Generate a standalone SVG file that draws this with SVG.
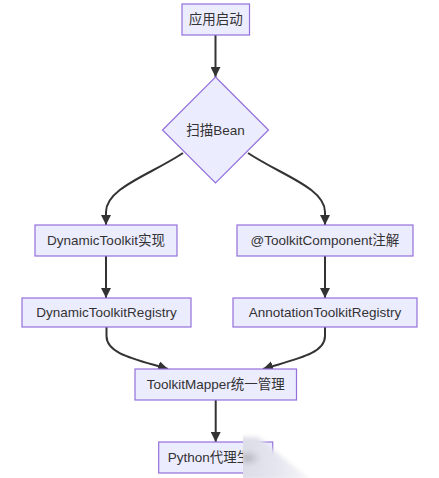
<svg xmlns="http://www.w3.org/2000/svg" width="439" height="478" viewBox="0 0 439 478">
  <style>
    .node rect, .node polygon { fill: #ECECFF; stroke: #9370DB; stroke-width: 1.2; }
    .node text { font-family: "Liberation Sans", "Noto Sans CJK SC", sans-serif; font-size: 13.5px; fill: #333333; text-anchor: middle; dominant-baseline: central; }
    .edges path { fill: none; stroke: #333333; stroke-width: 2; marker-end: url(#arrow); }
  </style>
  <defs>
    <marker id="arrow" markerUnits="userSpaceOnUse" markerWidth="10" markerHeight="10" viewBox="0 0 10 10" refX="10" refY="5" orient="auto">
      <path d="M0,0 L10,5 L0,10 z" fill="#333333"/>
    </marker>
    <linearGradient id="wm" x1="0" y1="0" x2="1" y2="0">
      <stop offset="0" stop-color="#dcdce6"/>
      <stop offset="0.5" stop-color="#e4e4ee"/>
      <stop offset="1" stop-color="#f4f4f8"/>
    </linearGradient>
    <radialGradient id="wmdark" cx="0.5" cy="0.5" r="0.5">
      <stop offset="0" stop-color="#a8a8b2" stop-opacity="0.9"/>
      <stop offset="1" stop-color="#c8c8d2" stop-opacity="0"/>
    </radialGradient>
    <filter id="blur" x="-20%" y="-20%" width="140%" height="140%">
      <feGaussianBlur stdDeviation="2"/>
    </filter>
    <clipPath id="wmclip">
      <rect x="243" y="430" width="100" height="48"/>
    </clipPath>
  </defs>
  <rect width="439" height="478" fill="#ffffff"/>

  <g class="edges">
    <path d="M215.5,35 L215.5,77"/>
    <path d="M183,153 C150,175 106,188 106,212 L106,225"/>
    <path d="M248,153 C281,175 325,188 325,212 L325,225"/>
    <path d="M106,256 L106,298"/>
    <path d="M325,256 L325,298"/>
    <path d="M106.5,327 L106.5,336 C106.5,354 135,359 168,369"/>
    <path d="M325,327 L325,336 C325,354 296,359 263,369"/>
    <path d="M215.7,400 L215.7,442"/>
  </g>

  <g id="n-start" class="node">
    <rect x="182" y="4" width="67.5" height="31"/>
    <text x="215.7" y="19.5">应用启动</text>
  </g>
  <g id="n-scan" class="node">
    <polygon points="215.5,77 268.5,130 215.5,183 162.5,130"/>
    <text x="215.5" y="130">扫描Bean</text>
  </g>
  <g id="n-dyn" class="node">
    <rect x="35" y="225" width="142" height="31"/>
    <text x="106" y="240.5">DynamicToolkit实现</text>
  </g>
  <g id="n-ann" class="node">
    <rect x="237" y="225" width="176" height="31"/>
    <text x="325" y="240.5">@ToolkitComponent注解</text>
  </g>
  <g id="n-dynreg" class="node">
    <rect x="22" y="298" width="169" height="29"/>
    <text x="106.5" y="312.5">DynamicToolkitRegistry</text>
  </g>
  <g id="n-annreg" class="node">
    <rect x="233" y="298" width="184" height="29"/>
    <text x="325" y="312.5">AnnotationToolkitRegistry</text>
  </g>
  <g id="n-mapper" class="node">
    <rect x="135" y="369" width="161.5" height="31"/>
    <text x="215.7" y="384.5">ToolkitMapper统一管理</text>
  </g>
  <g id="n-python" class="node">
    <rect x="158.7" y="442" width="114" height="31"/>
    <text x="215.7" y="457.5">Python代理生成</text>
  </g>

  <g clip-path="url(#wmclip)">
    <polygon points="236,437 258,437 310,480 236,480" fill="url(#wm)" filter="url(#blur)"/>
    <ellipse cx="248" cy="458" rx="14" ry="9" fill="url(#wmdark)" filter="url(#blur)"/>
  </g>
</svg>
